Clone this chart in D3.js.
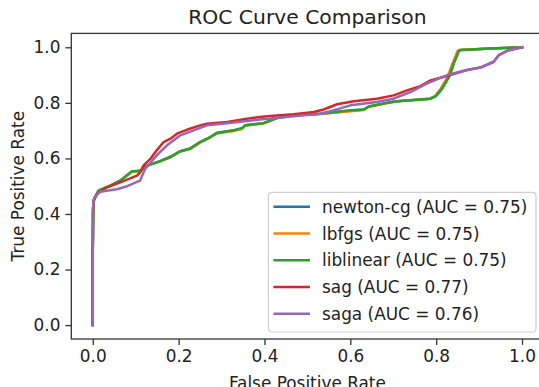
<!DOCTYPE html>
<html>
<head>
<meta charset="utf-8">
<script src="https://cdn.jsdelivr.net/npm/d3@7"></script>
<style>
  body { margin: 0; background: #fff; }
  svg { font-family: "DejaVu Sans", sans-serif; display: block; }
</style>
</head>
<body>
<div id="chart"></div>
<script>
const width = 539
const height = 387
const margin = {top: 33.4, bottom: 48, left: 71.3, right: -4.5}
const netWidth = width - margin.left - margin.right
const netHeight = height - margin.bottom - margin.top

// Data: [fpr, tpr] pairs for each solver
const models = ["newton-cg", "lbfgs", "liblinear", "sag", "saga"]
const aucs = [0.75, 0.75, 0.75, 0.77, 0.76]
const colors = ["#1f77b4", "#ff7f0e", "#2ca02c", "#d62728", "#9467bd"]
const xTicks = [0, 0.2, 0.4, 0.6, 0.8, 1.0]
const yTicks = [0, 0.2, 0.4, 0.6, 0.8, 1.0]

const newtonCgRoc = [[0,0],[0,0.27],[0.002,0.448],[0.0135,0.484],[0.041,0.502],[0.064,0.520],[0.091,0.552],[0.111,0.556],[0.126,0.573],
  [0.157,0.590],[0.181,0.606],[0.204,0.626],[0.227,0.636],[0.250,0.659],[0.274,0.677],[0.289,0.692],[0.328,0.701],[0.348,0.708],
  [0.355,0.719],[0.398,0.727],[0.429,0.745],[0.468,0.755],[0.530,0.761],[0.600,0.772],[0.631,0.776],[0.643,0.787],[0.686,0.800],
  [0.709,0.806],[0.787,0.815],[0.799,0.824],[0.814,0.852],[0.830,0.894],[0.841,0.942],[0.853,0.988],[0.857,0.990],[0.927,0.996],[1,1]]
const lbfgsRoc = [[0,0],[0,0.27],[0.002,0.448],[0.0135,0.484],[0.041,0.502],[0.064,0.520],[0.091,0.552],[0.111,0.556],[0.126,0.573],
  [0.157,0.590],[0.181,0.604],[0.204,0.625],[0.227,0.634],[0.250,0.657],[0.274,0.676],[0.289,0.690],[0.328,0.699],[0.348,0.706],
  [0.355,0.718],[0.398,0.726],[0.429,0.745],[0.468,0.755],[0.530,0.760],[0.600,0.770],[0.631,0.774],[0.643,0.786],[0.686,0.799],
  [0.709,0.806],[0.785,0.815],[0.797,0.824],[0.811,0.852],[0.827,0.894],[0.838,0.942],[0.850,0.988],[0.855,0.990],[0.927,0.996],[1,1]]
const liblinearRoc = [[0,0],[0,0.27],[0.002,0.448],[0.0135,0.484],[0.041,0.502],[0.064,0.520],[0.091,0.554],[0.111,0.556],[0.126,0.574],
  [0.157,0.590],[0.181,0.605],[0.204,0.626],[0.227,0.635],[0.250,0.659],[0.274,0.677],[0.289,0.691],[0.328,0.701],[0.348,0.710],
  [0.355,0.719],[0.398,0.727],[0.429,0.745],[0.468,0.755],[0.530,0.761],[0.600,0.773],[0.631,0.776],[0.643,0.787],[0.686,0.800],
  [0.709,0.806],[0.787,0.815],[0.799,0.824],[0.814,0.852],[0.830,0.894],[0.841,0.942],[0.853,0.988],[0.857,0.990],[0.927,0.996],[1,1]]
const sagRoc = [[0,0],[0,0.40],[0.003,0.455],[0.0096,0.472],[0.033,0.496],[0.064,0.514],[0.103,0.538],[0.111,0.551],[0.118,0.574],
  [0.134,0.598],[0.149,0.629],[0.165,0.659],[0.181,0.671],[0.196,0.689],[0.219,0.703],[0.250,0.719],[0.266,0.725],[0.313,0.731],
  [0.359,0.743],[0.406,0.752],[0.468,0.759],[0.515,0.767],[0.538,0.776],[0.569,0.795],[0.608,0.806],[0.662,0.815],[0.701,0.827],
  [0.732,0.845],[0.763,0.860],[0.787,0.881],[0.818,0.894],[0.872,0.918],[0.903,0.927],[0.934,0.948],[0.946,0.972],[0.966,0.988],[1,1]]
const sagaRoc = [[0,0],[0,0.42],[0.004,0.46],[0.017,0.480],[0.056,0.489],[0.080,0.500],[0.110,0.520],[0.122,0.562],[0.149,0.611],
  [0.173,0.647],[0.204,0.683],[0.235,0.701],[0.266,0.719],[0.313,0.727],[0.390,0.740],[0.468,0.752],[0.530,0.761],[0.561,0.773],
  [0.600,0.791],[0.662,0.803],[0.701,0.815],[0.740,0.839],[0.779,0.870],[0.826,0.900],[0.872,0.918],[0.903,0.927],[0.934,0.948],
  [0.946,0.972],[0.966,0.988],[1,1]]
const curves = [newtonCgRoc, lbfgsRoc, liblinearRoc, sagRoc, sagaRoc]

// Chart groups
const svg = d3.select("div#chart").append("svg").attr("width", width).attr("height", height)
const elementGroup = svg.append("g").attr("transform", `translate(${margin.left}, ${margin.top})`)

const x = d3.scaleLinear().domain([-0.05, 1.05]).range([0, netWidth])
const y = d3.scaleLinear().domain([-0.05, 1.05]).range([netHeight, 0])

const xAxis = d3.axisBottom(x).tickValues(xTicks).tickFormat(d3.format(".1f")).tickSize(5.9).tickPadding(5)
const yAxis = d3.axisLeft(y).tickValues(yTicks).tickFormat(d3.format(".1f")).tickSize(5.9).tickPadding(5)

const xAxisGroup = elementGroup.append("g").attr("transform", `translate(0, ${netHeight})`).call(xAxis)
const yAxisGroup = elementGroup.append("g").call(yAxis)
;[xAxisGroup, yAxisGroup].forEach(g => {
    g.select(".domain").remove()
    g.selectAll("line").attr("stroke", "#333").attr("stroke-width", 1.3)
    g.selectAll("text").attr("font-size", 16.9).attr("fill", "#222").attr("font-family", "DejaVu Sans")
})

// Lines
const line = d3.line().x(d => x(d[0])).y(d => y(d[1]))
elementGroup.append("g").selectAll("path")
    .data(curves)
    .enter().append("path")
    .attr("d", line)
    .attr("fill", "none")
    .attr("stroke", (d, i) => colors[i])
    .attr("stroke-width", 2.5)
    .attr("stroke-linejoin", "round")
    .attr("stroke-linecap", "square")

// Spines
elementGroup.append("rect")
    .attr("x", 0).attr("y", 0).attr("width", netWidth).attr("height", netHeight)
    .attr("fill", "none").attr("stroke", "#333").attr("stroke-width", 1.3)

// Titles
svg.append("text").attr("x", margin.left + netWidth / 2).attr("y", 24)
    .attr("text-anchor", "middle").attr("font-size", 20.3).attr("fill", "#222")
    .text("ROC Curve Comparison")
svg.append("text").attr("x", margin.left + netWidth / 2).attr("y", 389)
    .attr("text-anchor", "middle").attr("font-size", 16.9).attr("fill", "#222")
    .text("False Positive Rate")
svg.append("text").attr("transform", `translate(24, ${margin.top + netHeight / 2}) rotate(-90)`)
    .attr("text-anchor", "middle").attr("font-size", 16.9).attr("fill", "#222")
    .text("True Positive Rate")

// Legend
const legend = svg.append("g").attr("transform", "translate(268.4, 192.4)")
legend.append("rect").attr("width", 267.6).attr("height", 139.6).attr("rx", 3.5)
    .attr("fill", "#fff").attr("fill-opacity", 0.8).attr("stroke", "#d0d0d0").attr("stroke-width", 1.2)
const rows = legend.selectAll("g.row").data(models).enter().append("g").attr("class", "row")
    .attr("transform", (d, i) => `translate(0, ${14.4 + i * 26.75})`)
rows.append("line").attr("x1", 5).attr("x2", 41.6).attr("y1", 0).attr("y2", 0)
    .attr("stroke", (d, i) => colors[i]).attr("stroke-width", 2.5)
rows.append("text").attr("x", 53.6).attr("y", 6).attr("font-size", 16.9).attr("fill", "#222")
    .text((d, i) => `${d} (AUC = ${aucs[i].toFixed(2)})`)
</script>
</body>
</html>
